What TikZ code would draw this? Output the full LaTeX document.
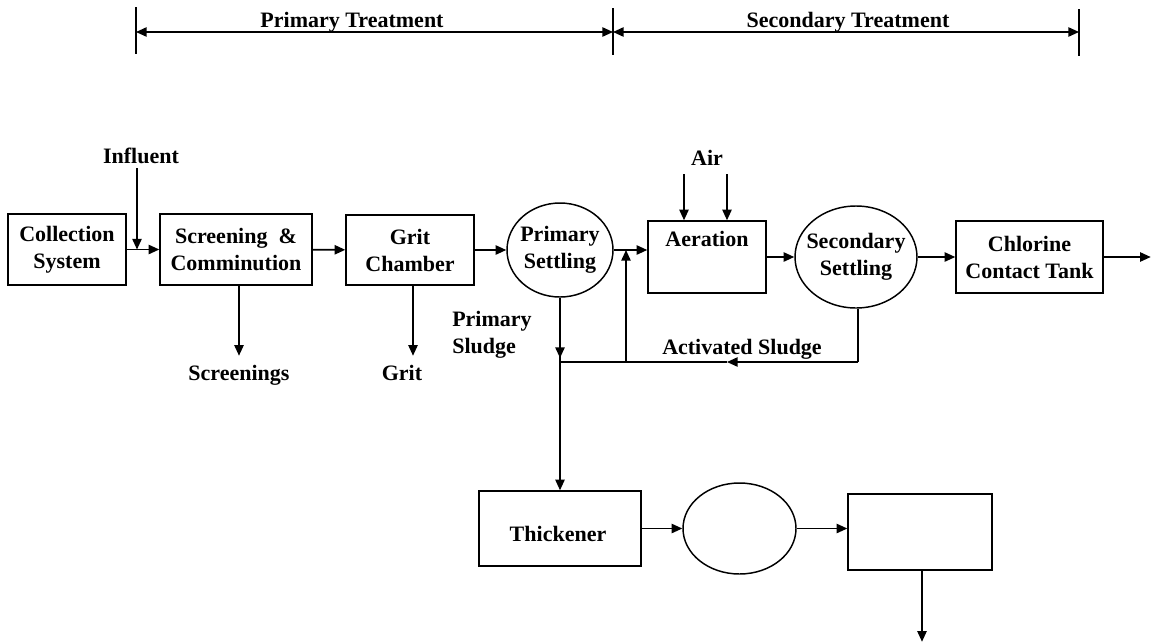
\documentclass[tikz,border=0pt]{standalone}
\usepackage{fontspec}
\setmainfont{Liberation Serif}
\usetikzlibrary{arrows.meta,shapes.geometric}
\begin{document}
\begin{tikzpicture}[x=0.75pt,y=-0.75pt,
  every node/.style={font=\bfseries\fontsize{16.5}{20.25}\selectfont},
  box/.style={draw,line width=1.1pt,rectangle,align=center,inner sep=0pt},
  ell/.style={draw,line width=1.1pt,ellipse,inner sep=0pt},
  lbl/.style={align=center,inner sep=0pt},
  ln/.style={line width=1.2pt},
  arr/.style={line width=1.2pt,-{Triangle[length=8pt,width=7pt]}},
  darr/.style={line width=1.2pt,{Triangle[length=8pt,width=7pt]}-{Triangle[length=8pt,width=7pt]}}]
\useasboundingbox (0,0) rectangle (1156,643);

% ---- top brackets
\coordinate (t1a) at (136,7);  \coordinate (t1b) at (136,54);
\coordinate (t2a) at (613,8);  \coordinate (t2b) at (613,55);
\coordinate (t3a) at (1079,9); \coordinate (t3b) at (1079,56);
\coordinate (a1) at (136,32); \coordinate (a2) at (613,32); \coordinate (a3) at (1079,32);
\draw[ln] (t1a) -- (t1b);
\draw[ln] (t2a) -- (t2b);
\draw[ln] (t3a) -- (t3b);
\draw[darr] (a1) -- (a2);
\draw[darr] (a2) -- (a3);
\node[lbl,anchor=base] (ptr) at (352,27) {Primary Treatment};
\node[lbl,anchor=base] (str) at (848,27) {Secondary Treatment};

% ---- main line
\node[box,minimum width=88.5pt,minimum height=53.25pt] (col) at (67,249.5) {Collection\\System};
\node[box,minimum width=114pt,minimum height=53.25pt] (scr) at (236,249.5) {Screening \ \&\\Comminution};
\node[box,minimum width=96pt,minimum height=52.5pt] (grit) at (410,250) {Grit\\Chamber};
\node[ell,minimum width=79.5pt,minimum height=70.5pt,label={[lbl]center:{Primary\\Settling}}] (ps) at (560,250) {};
\node[box,minimum width=88.5pt,minimum height=54pt] (aer) at (707,257) {};
\node[lbl,anchor=base] (aert) at (707,246) {Aeration};
\node[ell,minimum width=91.5pt,minimum height=76.5pt,label={[lbl]center:{Secondary\\Settling}}] (ss) at (856,257) {};
\node[box,minimum width=110.25pt,minimum height=54pt] (cl) at (1029.5,257) {Chlorine\\Contact Tank};

% ---- labels
\node[lbl,anchor=base] (infl) at (141,163) {Influent};
\node[lbl,anchor=base] (airl) at (707,165) {Air};
\node[lbl,anchor=base] (scrl) at (239,380) {Screenings};
\node[lbl,anchor=base] (gritl) at (402,380) {Grit};
\node[lbl,anchor=base west,align=left] (psl) at (452,353) {Primary\\Sludge};
\node[lbl,anchor=base] (asl) at (742,354) {Activated Sludge};

% ---- lower line
\node[box,minimum width=121.5pt,minimum height=56.25pt] (thk) at (560,528.5) {};
\node[lbl,anchor=base] (thkt) at (558,541) {Thickener};
\node[ell,minimum width=84.75pt,minimum height=68.25pt] (e2) at (739.5,528.5) {};
\node[box,minimum width=108pt,minimum height=57pt] (b3) at (920,532) {};

% ---- connectors
\coordinate (inA) at (137,168);
\coordinate (inJ) at (137,249.5);
\draw[arr] (inA) -- (inJ);
\draw[arr] (col) -- (scr);
\draw[arr] (scr) -- (grit);
\draw[arr] (grit) -- (ps);
\draw[arr] (ps.east) -- (ps.east -| aer.west);
\coordinate (air1) at (684,174);
\coordinate (air2) at (727,174);
\draw[arr] (air1) -- (air1 |- aer.north);
\draw[arr] (air2) -- (air2 |- aer.north);
\draw[arr] (aer.east) -- (ss.west);
\draw[arr] (ss.east) -- (ss.east -| cl.west);
\draw[arr] (cl.east) -- ++(47,0);

\draw[arr] ([xshift=2.25pt]scr.south) -- ++(0,70);
\draw[arr] ([xshift=2.25pt]grit.south) -- ++(0,70);

\coordinate (jn) at (560,362);
\coordinate (sc) at (858,362);
\coordinate (am) at (727,362);
\coordinate (rb) at (626,362);
\draw[arr] (ps.south) -- ([yshift=3pt]jn);
\draw[ln] (ps.south) -- (jn);
\draw[arr] (jn) -- (thk.north);
\draw[ln] (ss.south -| sc) -- (sc);
\draw[arr] (sc) -- (am);
\draw[ln] (am) -- (jn);
\draw[arr] (rb) -- (rb |- ps.east);

\draw[arr] (thk) -- (e2);
\draw[arr] (e2.east) -- (e2.east -| b3.west);
\draw[arr] ([xshift=1.5pt]b3.south) -- ++(0,71);
\end{tikzpicture}
\end{document}
